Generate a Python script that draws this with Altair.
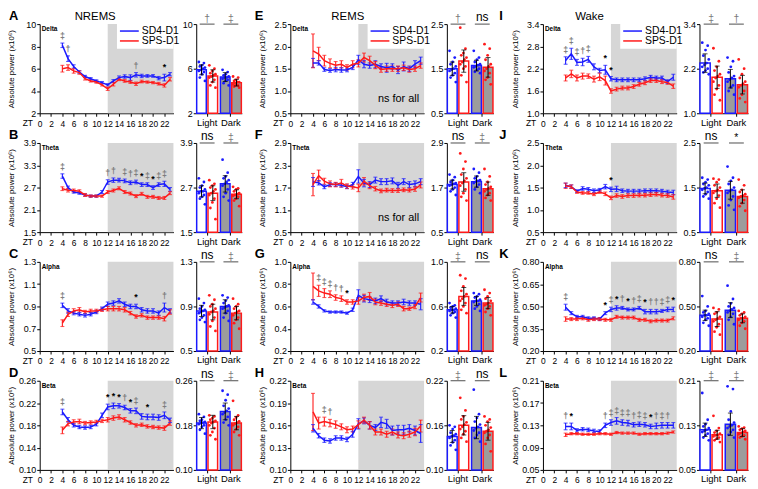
import altair as alt
import pandas as pd

ZT = list(range(4, 24))
SERIES = ["SD4-D1", "SPS-D1"]
GROUPS = ["Light", "Dark"]
BANDS = ["Delta", "Theta", "Alpha", "Beta"]
MODES = ["NREMS", "REMS", "Wake"]

# ---------------- NREMS ----------------
A_sd = [8.1, 6.9, 6.2, 5.7, 5.3, 5.1, 4.9, 4.75, 4.55, 4.9, 5.2, 5.3, 5.2, 5.45, 5.35, 5.35, 5.35, 5.15, 5.2, 5.5]
A_sd_err = [0.2, 0.25, 0.15, 0.12, 0.1, 0.1, 0.1, 0.1, 0.1, 0.12, 0.15, 0.15, 0.25, 0.2, 0.15, 0.12, 0.12, 0.15, 0.3, 0.15]
A_sps = [6.0, 6.1, 5.8, 5.65, 5.1, 4.9, 4.8, 4.55, 4.2, 4.6, 5.05, 4.9, 4.8, 4.65, 4.85, 4.8, 4.75, 4.65, 4.5, 5.05]
A_sps_err = [0.3, 0.25, 0.2, 0.15, 0.12, 0.1, 0.1, 0.1, 0.15, 0.15, 0.12, 0.12, 0.12, 0.15, 0.12, 0.1, 0.1, 0.12, 0.15, 0.15]
A_sig_zt = [4, 5, 17, 22]
A_sig_sym = ["‡", "†", "†", "*"]
A_bar = [5.9, 5.35, 5.25, 4.75]
A_bar_err = [0.45, 0.55, 0.4, 0.3]
A_bar_sig = ["†", "‡"]
A_dots_l_sd = [6.6, 6.5, 6.3, 6.2, 6.1, 6.0, 5.9, 5.8, 5.7, 5.5, 5.2, 4.9]
A_dots_l_sps = [6.3, 6.0, 5.8, 5.6, 5.5, 5.4, 5.3, 5.2, 5.0, 4.8, 4.5, 4.3]
A_dots_d_sd = [5.9, 5.7, 5.5, 5.4, 5.3, 5.2, 5.2, 5.1, 5.0, 4.9, 4.7, 4.5]
A_dots_d_sps = [5.3, 5.2, 5.0, 4.9, 4.8, 4.8, 4.7, 4.6, 4.5, 4.5, 4.4, 4.3]

B_sd = [3.01, 2.7, 2.58, 2.55, 2.5, 2.47, 2.47, 2.58, 2.85, 2.9, 2.9, 2.88, 2.83, 2.85, 2.78, 2.78, 2.7, 2.78, 2.8, 2.65]
B_sd_err = [0.06, 0.04, 0.03, 0.03, 0.03, 0.03, 0.03, 0.04, 0.06, 0.06, 0.05, 0.05, 0.05, 0.05, 0.05, 0.05, 0.05, 0.05, 0.07, 0.05]
B_sps = [2.67, 2.63, 2.62, 2.6, 2.5, 2.47, 2.47, 2.47, 2.58, 2.62, 2.68, 2.58, 2.54, 2.47, 2.53, 2.45, 2.45, 2.42, 2.42, 2.55]
B_sps_err = [0.05, 0.05, 0.04, 0.04, 0.04, 0.03, 0.03, 0.03, 0.04, 0.04, 0.04, 0.04, 0.04, 0.04, 0.04, 0.04, 0.04, 0.04, 0.04, 0.04]
B_sig_zt = [4, 12, 13, 15, 16, 17, 18, 19, 20, 21, 22]
B_sig_sym = ["‡", "†", "†", "‡", "†", "‡", "*", "‡", "*", "‡", "‡"]
B_bar = [2.6, 2.55, 2.8, 2.52]
B_bar_err = [0.15, 0.2, 0.22, 0.12]
B_bar_sig = ["ns", "‡"]
B_dots_l_sd = [2.95, 2.85, 2.75, 2.7, 2.65, 2.6, 2.6, 2.55, 2.5, 2.45, 2.4, 2.25]
B_dots_l_sps = [2.9, 2.8, 2.75, 2.7, 2.65, 2.6, 2.55, 2.5, 2.4, 2.3, 2.15, 1.85]
B_dots_d_sd = [3.45, 3.1, 3.0, 2.95, 2.9, 2.85, 2.8, 2.75, 2.65, 2.55, 2.45, 2.35]
B_dots_d_sps = [2.72, 2.68, 2.65, 2.6, 2.55, 2.52, 2.5, 2.48, 2.45, 2.4, 2.35, 2.2]

C_sd = [0.91, 0.86, 0.84, 0.83, 0.82, 0.83, 0.85, 0.88, 0.92, 0.93, 0.95, 0.92, 0.9, 0.9, 0.87, 0.86, 0.86, 0.84, 0.89, 0.86]
C_sd_err = [0.02, 0.02, 0.015, 0.015, 0.015, 0.015, 0.015, 0.015, 0.02, 0.02, 0.02, 0.02, 0.02, 0.02, 0.02, 0.02, 0.02, 0.02, 0.04, 0.02]
C_sps = [0.75, 0.83, 0.86, 0.87, 0.85, 0.86, 0.86, 0.87, 0.88, 0.88, 0.88, 0.87, 0.84, 0.81, 0.82, 0.8, 0.8, 0.8, 0.79, 0.85]
C_sps_err = [0.03, 0.02, 0.02, 0.02, 0.015, 0.015, 0.015, 0.015, 0.02, 0.02, 0.02, 0.02, 0.015, 0.015, 0.015, 0.015, 0.015, 0.015, 0.02, 0.02]
C_sig_zt = [4, 17, 22]
C_sig_sym = ["‡", "*", "†"]
C_bar = [0.86, 0.85, 0.9, 0.84]
C_bar_err = [0.05, 0.07, 0.06, 0.06]
C_bar_sig = ["ns", "‡"]
C_dots_l_sd = [0.97, 0.93, 0.9, 0.88, 0.87, 0.86, 0.85, 0.84, 0.82, 0.8, 0.78, 0.76]
C_dots_l_sps = [1.0, 0.96, 0.92, 0.9, 0.88, 0.86, 0.85, 0.83, 0.8, 0.77, 0.72, 0.68]
C_dots_d_sd = [1.0, 0.98, 0.95, 0.93, 0.91, 0.9, 0.89, 0.88, 0.86, 0.84, 0.8, 0.77]
C_dots_d_sps = [0.97, 0.92, 0.9, 0.88, 0.86, 0.85, 0.84, 0.82, 0.8, 0.78, 0.75, 0.7]

D_sd = [0.204, 0.19, 0.18, 0.177, 0.176, 0.177, 0.182, 0.198, 0.213, 0.215, 0.215, 0.212, 0.206, 0.206, 0.196, 0.195, 0.195, 0.194, 0.198, 0.189]
D_sd_err = [0.005, 0.004, 0.003, 0.003, 0.003, 0.003, 0.003, 0.004, 0.005, 0.005, 0.004, 0.004, 0.004, 0.005, 0.005, 0.005, 0.005, 0.005, 0.006, 0.004]
D_sps = [0.171, 0.183, 0.186, 0.187, 0.184, 0.185, 0.186, 0.188, 0.19, 0.193, 0.195, 0.19, 0.185, 0.18, 0.181, 0.178, 0.177, 0.176, 0.175, 0.184]
D_sps_err = [0.006, 0.004, 0.004, 0.004, 0.003, 0.003, 0.003, 0.003, 0.004, 0.004, 0.004, 0.004, 0.003, 0.003, 0.003, 0.003, 0.003, 0.003, 0.004, 0.004]
D_sig_zt = [4, 12, 13, 14, 15, 16, 17, 19, 22]
D_sig_sym = ["‡", "*", "*", "*", "†", "*", "‡", "*", "‡"]
D_bar = [0.184, 0.186, 0.205, 0.184]
D_bar_err = [0.01, 0.012, 0.015, 0.012]
D_bar_sig = ["ns", "‡"]
D_dots_l_sd = [0.2, 0.195, 0.19, 0.188, 0.186, 0.185, 0.184, 0.182, 0.18, 0.177, 0.172, 0.165]
D_dots_l_sps = [0.198, 0.196, 0.193, 0.19, 0.188, 0.186, 0.184, 0.18, 0.175, 0.168, 0.162, 0.155]
D_dots_d_sd = [0.242, 0.235, 0.225, 0.215, 0.21, 0.206, 0.203, 0.2, 0.195, 0.19, 0.185, 0.18]
D_dots_d_sps = [0.224, 0.198, 0.194, 0.19, 0.187, 0.185, 0.183, 0.18, 0.177, 0.173, 0.168, 0.162]

# ---------------- REMS ----------------
E_sd = [1.63, 1.63, 1.48, 1.46, 1.48, 1.47, 1.47, 1.53, 1.7, 1.6, 1.57, 1.6, 1.55, 1.52, 1.55, 1.47, 1.55, 1.5, 1.6, 1.68]
E_sd_err = [0.1, 0.05, 0.04, 0.04, 0.05, 0.05, 0.04, 0.05, 0.1, 0.08, 0.06, 0.08, 0.06, 0.1, 0.06, 0.08, 0.1, 0.06, 0.08, 0.08]
E_sps = [1.9, 1.83, 1.68, 1.62, 1.58, 1.6, 1.53, 1.6, 1.62, 1.75, 1.68, 1.58, 1.48, 1.5, 1.5, 1.5, 1.52, 1.48, 1.5, 1.57]
E_sps_err = [0.38, 0.15, 0.12, 0.1, 0.08, 0.08, 0.06, 0.08, 0.08, 0.1, 0.1, 0.08, 0.06, 0.06, 0.06, 0.06, 0.06, 0.06, 0.06, 0.06]
E_sig_zt = []
E_sig_sym = []
E_bar = [1.5, 1.67, 1.57, 1.53]
E_bar_err = [0.15, 0.25, 0.12, 0.22]
E_bar_sig = ["†", "ns"]
E_dots_l_sd = [1.9, 1.75, 1.65, 1.6, 1.55, 1.5, 1.48, 1.45, 1.4, 1.35, 1.3, 1.2]
E_dots_l_sps = [2.42, 1.95, 1.85, 1.8, 1.75, 1.7, 1.65, 1.6, 1.55, 1.5, 1.35, 1.2]
E_dots_d_sd = [1.9, 1.75, 1.7, 1.65, 1.6, 1.58, 1.55, 1.53, 1.5, 1.47, 1.43, 1.4]
E_dots_d_sps = [2.05, 1.95, 1.8, 1.7, 1.6, 1.55, 1.5, 1.45, 1.4, 1.3, 1.25, 1.15]

F_sd = [1.85, 1.83, 1.72, 1.78, 1.78, 1.76, 1.72, 1.78, 2.0, 1.82, 1.78, 1.9, 1.86, 1.86, 1.88, 1.76, 1.86, 1.78, 1.8, 1.86]
F_sd_err = [0.12, 0.06, 0.05, 0.05, 0.05, 0.05, 0.05, 0.06, 0.18, 0.1, 0.08, 0.08, 0.08, 0.08, 0.08, 0.08, 0.08, 0.08, 0.08, 0.08]
F_sps = [1.78, 2.02, 1.87, 1.8, 1.78, 1.82, 1.74, 1.72, 1.69, 1.87, 1.75, 1.67, 1.61, 1.63, 1.62, 1.62, 1.64, 1.63, 1.66, 1.77]
F_sps_err = [0.3, 0.15, 0.08, 0.08, 0.06, 0.1, 0.06, 0.06, 0.1, 0.1, 0.08, 0.06, 0.05, 0.05, 0.05, 0.05, 0.05, 0.05, 0.06, 0.08]
F_sig_zt = []
F_sig_sym = []
F_bar = [1.78, 1.85, 1.86, 1.67]
F_bar_err = [0.12, 0.25, 0.15, 0.18]
F_bar_sig = ["ns", "‡"]
F_dots_l_sd = [2.05, 1.98, 1.9, 1.85, 1.82, 1.8, 1.78, 1.75, 1.7, 1.65, 1.6, 1.5]
F_dots_l_sps = [2.62, 2.4, 2.2, 2.05, 1.95, 1.88, 1.82, 1.75, 1.65, 1.55, 1.45, 1.35]
F_dots_d_sd = [2.2, 2.1, 2.0, 1.95, 1.9, 1.88, 1.86, 1.82, 1.78, 1.72, 1.65, 1.55]
F_dots_d_sps = [2.2, 2.0, 1.85, 1.78, 1.72, 1.68, 1.65, 1.6, 1.55, 1.5, 1.42, 1.35]

G_sd = [0.64, 0.6, 0.56, 0.55, 0.55, 0.55, 0.54, 0.57, 0.7, 0.67, 0.66, 0.65, 0.67, 0.64, 0.63, 0.63, 0.64, 0.63, 0.63, 0.62]
G_sd_err = [0.02, 0.015, 0.01, 0.01, 0.01, 0.01, 0.01, 0.015, 0.05, 0.03, 0.025, 0.025, 0.025, 0.025, 0.02, 0.02, 0.025, 0.02, 0.02, 0.05]
G_sps = [0.78, 0.74, 0.72, 0.71, 0.68, 0.67, 0.64, 0.64, 0.65, 0.68, 0.69, 0.64, 0.63, 0.62, 0.61, 0.62, 0.58, 0.58, 0.6, 0.68]
G_sps_err = [0.12, 0.05, 0.04, 0.03, 0.025, 0.025, 0.02, 0.02, 0.03, 0.03, 0.035, 0.025, 0.02, 0.02, 0.02, 0.02, 0.02, 0.015, 0.02, 0.04]
G_sig_zt = [5, 6, 7, 8, 9, 10]
G_sig_sym = ["‡", "‡", "‡", "†", "†", "*"]
G_bar = [0.57, 0.69, 0.65, 0.63]
G_bar_err = [0.03, 0.08, 0.04, 0.05]
G_bar_sig = ["‡", "ns"]
G_dots_l_sd = [0.63, 0.61, 0.6, 0.59, 0.58, 0.57, 0.57, 0.56, 0.55, 0.54, 0.52, 0.5]
G_dots_l_sps = [0.88, 0.85, 0.78, 0.74, 0.71, 0.69, 0.67, 0.65, 0.63, 0.6, 0.57, 0.54]
G_dots_d_sd = [0.72, 0.71, 0.69, 0.68, 0.66, 0.65, 0.65, 0.64, 0.62, 0.6, 0.58, 0.56]
G_dots_d_sps = [0.75, 0.72, 0.69, 0.67, 0.65, 0.63, 0.62, 0.61, 0.6, 0.58, 0.55, 0.52]

H_sd = [0.156, 0.146, 0.14, 0.139, 0.143, 0.143, 0.141, 0.148, 0.162, 0.166, 0.16, 0.157, 0.164, 0.162, 0.153, 0.154, 0.154, 0.156, 0.153, 0.149]
H_sd_err = [0.005, 0.003, 0.003, 0.003, 0.003, 0.003, 0.003, 0.004, 0.007, 0.004, 0.005, 0.004, 0.007, 0.006, 0.006, 0.006, 0.006, 0.005, 0.006, 0.012]
H_sps = [0.178, 0.163, 0.165, 0.163, 0.161, 0.158, 0.154, 0.155, 0.161, 0.167, 0.16, 0.151, 0.151, 0.148, 0.151, 0.147, 0.146, 0.148, 0.151, 0.159]
H_sps_err = [0.025, 0.008, 0.006, 0.005, 0.005, 0.004, 0.004, 0.004, 0.005, 0.004, 0.005, 0.004, 0.004, 0.004, 0.004, 0.004, 0.004, 0.004, 0.005, 0.008]
H_sig_zt = [6, 7]
H_sig_sym = ["‡", "†"]
H_bar = [0.145, 0.16, 0.157, 0.152]
H_bar_err = [0.008, 0.013, 0.015, 0.012]
H_bar_sig = ["‡", "ns"]
H_dots_l_sd = [0.16, 0.158, 0.155, 0.15, 0.148, 0.146, 0.145, 0.143, 0.14, 0.137, 0.133, 0.127]
H_dots_l_sps = [0.197, 0.18, 0.172, 0.168, 0.164, 0.161, 0.158, 0.155, 0.152, 0.148, 0.143, 0.138]
H_dots_d_sd = [0.208, 0.175, 0.17, 0.165, 0.161, 0.158, 0.156, 0.153, 0.15, 0.147, 0.143, 0.138]
H_dots_d_sps = [0.172, 0.168, 0.165, 0.16, 0.157, 0.154, 0.152, 0.15, 0.147, 0.143, 0.135, 0.125]

# ---------------- Wake ----------------
I_sd = [2.42, 2.6, 2.37, 2.38, 2.45, 2.25, 2.15, 2.17, 1.93, 1.9, 1.9, 1.9, 1.9, 1.9, 1.93, 1.97, 1.95, 1.95, 1.85, 1.97]
I_sd_err = [0.1, 0.15, 0.08, 0.1, 0.08, 0.08, 0.06, 0.12, 0.06, 0.05, 0.05, 0.05, 0.05, 0.05, 0.05, 0.05, 0.05, 0.05, 0.05, 0.08]
I_sps = [1.95, 2.06, 1.95, 2.0, 2.0, 1.92, 1.98, 1.88, 1.6, 1.65, 1.68, 1.68, 1.72, 1.78, 1.82, 1.88, 1.88, 1.85, 1.83, 1.73]
I_sps_err = [0.08, 0.1, 0.08, 0.08, 0.06, 0.08, 0.1, 0.12, 0.06, 0.05, 0.05, 0.05, 0.05, 0.05, 0.05, 0.05, 0.05, 0.05, 0.05, 0.06]
I_sig_zt = [4, 5, 6, 7, 8, 11, 12]
I_sig_sym = ["‡", "‡", "‡", "†", "‡", "*", "*"]
I_bar = [2.35, 1.97, 1.93, 1.77]
I_bar_err = [0.25, 0.3, 0.25, 0.25]
I_bar_sig = ["‡", "†"]
I_dots_l_sd = [2.9, 2.82, 2.7, 2.55, 2.45, 2.35, 2.3, 2.25, 2.2, 2.15, 2.1, 2.05]
I_dots_l_sps = [2.75, 2.4, 2.25, 2.15, 2.05, 2.0, 1.95, 1.85, 1.75, 1.65, 1.5, 1.35]
I_dots_d_sd = [2.5, 2.4, 2.25, 2.1, 2.0, 1.95, 1.9, 1.85, 1.75, 1.7, 1.6, 1.5]
I_dots_d_sps = [2.45, 2.2, 2.05, 1.95, 1.85, 1.8, 1.75, 1.7, 1.6, 1.5, 1.4, 1.3]

J_sd = [1.55, 1.52, 1.42, 1.48, 1.46, 1.43, 1.45, 1.52, 1.46, 1.47, 1.43, 1.42, 1.42, 1.42, 1.43, 1.43, 1.43, 1.42, 1.4, 1.39]
J_sd_err = [0.05, 0.04, 0.03, 0.04, 0.04, 0.04, 0.03, 0.05, 0.05, 0.06, 0.04, 0.04, 0.04, 0.04, 0.04, 0.04, 0.04, 0.04, 0.04, 0.05]
J_sps = [1.54, 1.52, 1.4, 1.38, 1.38, 1.35, 1.4, 1.36, 1.27, 1.32, 1.3, 1.32, 1.32, 1.33, 1.33, 1.34, 1.35, 1.33, 1.32, 1.29]
J_sps_err = [0.06, 0.04, 0.03, 0.03, 0.03, 0.03, 0.03, 0.04, 0.04, 0.04, 0.04, 0.04, 0.04, 0.04, 0.04, 0.04, 0.04, 0.04, 0.04, 0.05]
J_sig_zt = [12]
J_sig_sym = ["*"]
J_bar = [1.48, 1.43, 1.44, 1.3]
J_bar_err = [0.12, 0.15, 0.2, 0.15]
J_bar_sig = ["ns", "*"]
J_dots_l_sd = [1.72, 1.68, 1.62, 1.58, 1.55, 1.5, 1.48, 1.45, 1.4, 1.35, 1.3, 1.25]
J_dots_l_sps = [1.7, 1.68, 1.62, 1.55, 1.5, 1.45, 1.42, 1.38, 1.32, 1.25, 1.15, 1.05]
J_dots_d_sd = [1.97, 1.72, 1.65, 1.58, 1.5, 1.45, 1.42, 1.38, 1.3, 1.22, 1.1, 1.0]
J_dots_d_sps = [1.68, 1.55, 1.45, 1.4, 1.35, 1.32, 1.3, 1.27, 1.22, 1.15, 1.08, 0.98]

K_sd = [0.495, 0.455, 0.43, 0.43, 0.42, 0.42, 0.415, 0.455, 0.48, 0.49, 0.49, 0.48, 0.48, 0.49, 0.465, 0.465, 0.465, 0.47, 0.48, 0.48]
K_sd_err = [0.02, 0.01, 0.01, 0.01, 0.01, 0.01, 0.01, 0.01, 0.015, 0.015, 0.01, 0.01, 0.01, 0.01, 0.015, 0.015, 0.015, 0.01, 0.015, 0.015]
K_sps = [0.415, 0.415, 0.415, 0.42, 0.41, 0.415, 0.415, 0.41, 0.41, 0.43, 0.425, 0.425, 0.425, 0.41, 0.41, 0.4, 0.405, 0.405, 0.405, 0.42]
K_sps_err = [0.015, 0.01, 0.01, 0.01, 0.01, 0.01, 0.01, 0.01, 0.01, 0.01, 0.01, 0.01, 0.01, 0.01, 0.01, 0.01, 0.01, 0.01, 0.01, 0.01]
K_sig_zt = [4, 11, 12, 13, 14, 15, 16, 17, 18, 19, 20, 21, 22, 23]
K_sig_sym = ["‡", "*", "‡", "*", "†", "*", "†", "‡", "*", "†", "†", "‡", "‡", "*"]
K_bar = [0.44, 0.415, 0.475, 0.42]
K_bar_err = [0.035, 0.05, 0.05, 0.03]
K_bar_sig = ["ns", "‡"]
K_dots_l_sd = [0.57, 0.5, 0.47, 0.46, 0.45, 0.44, 0.44, 0.43, 0.42, 0.41, 0.39, 0.37]
K_dots_l_sps = [0.49, 0.48, 0.46, 0.45, 0.43, 0.42, 0.41, 0.4, 0.38, 0.36, 0.33, 0.31]
K_dots_d_sd = [0.64, 0.55, 0.52, 0.5, 0.49, 0.48, 0.47, 0.46, 0.45, 0.43, 0.41, 0.38]
K_dots_d_sps = [0.47, 0.46, 0.45, 0.44, 0.43, 0.42, 0.42, 0.41, 0.4, 0.39, 0.37, 0.35]

L_sd = [0.128, 0.128, 0.121, 0.123, 0.122, 0.12, 0.119, 0.13, 0.135, 0.138, 0.135, 0.134, 0.131, 0.132, 0.131, 0.128, 0.129, 0.13, 0.13, 0.13]
L_sd_err = [0.006, 0.006, 0.003, 0.003, 0.003, 0.003, 0.003, 0.004, 0.005, 0.006, 0.005, 0.005, 0.004, 0.004, 0.004, 0.004, 0.005, 0.005, 0.005, 0.005]
L_sps = [0.113, 0.115, 0.115, 0.114, 0.114, 0.114, 0.115, 0.115, 0.114, 0.117, 0.116, 0.116, 0.116, 0.114, 0.115, 0.115, 0.115, 0.115, 0.116, 0.118]
L_sps_err = [0.003, 0.002, 0.002, 0.002, 0.002, 0.002, 0.002, 0.002, 0.002, 0.002, 0.002, 0.002, 0.002, 0.002, 0.002, 0.002, 0.002, 0.002, 0.002, 0.002]
L_sig_zt = [4, 5, 11, 12, 13, 14, 15, 16, 17, 18, 19, 20, 21, 22]
L_sig_sym = ["†", "*", "†", "‡", "‡", "‡", "‡", "†", "‡", "‡", "*", "†", "‡", "†"]
L_bar = [0.122, 0.113, 0.132, 0.117]
L_bar_err = [0.012, 0.008, 0.02, 0.007]
L_bar_sig = ["‡", "‡"]
L_dots_l_sd = [0.188, 0.14, 0.132, 0.128, 0.125, 0.122, 0.12, 0.118, 0.115, 0.112, 0.108, 0.103]
L_dots_l_sps = [0.147, 0.125, 0.12, 0.117, 0.115, 0.113, 0.112, 0.11, 0.108, 0.106, 0.103, 0.1]
L_dots_d_sd = [0.2, 0.195, 0.155, 0.14, 0.135, 0.13, 0.128, 0.125, 0.122, 0.118, 0.113, 0.108]
L_dots_d_sps = [0.128, 0.126, 0.124, 0.122, 0.12, 0.118, 0.116, 0.114, 0.112, 0.11, 0.108, 0.105]

# y-axis domains / label formats
Y_DOMAINS = {"A": (2, 10), "B": (1.5, 3.9), "C": (0.5, 1.3), "D": (0.10, 0.26),
             "E": (0.5, 2.5), "F": (0.5, 2.9), "G": (0.2, 1.0), "H": (0.10, 0.22),
             "I": (1.0, 3.4), "J": (0.5, 2.5), "K": (0.20, 0.80), "L": (0.05, 0.21)}
Y_FORMATS = {"A": "d", "B": ".1f", "C": ".1f", "D": ".2f", "E": ".1f", "F": ".1f",
             "G": ".1f", "H": ".2f", "I": ".1f", "J": ".1f", "K": ".2f", "L": ".2f"}

G_ = globals()


def panel(key):
    return {k: G_[f"{key}_{k}"] for k in
            ["sd", "sd_err", "sps", "sps_err", "sig_zt", "sig_sym", "bar", "bar_err", "bar_sig",
             "dots_l_sd", "dots_l_sps", "dots_d_sd", "dots_d_sps"]}


# ---------------- style / layout ----------------
FONT = "Liberation Sans, Arial, sans-serif"
BLUE = "#1a1aff"
RED = "#ff1a1a"
SHADE = "#d6d6d6"
DARKFILL = "#9c9c9c"
H = 90
LW = [135, 135, 135]
BW = [72, 74, 51]
BR = [46, 47, 49]
XMAX = 23.6
TITLE_X = [56, 58, 47]
LETTER_X = [-31, -36, -44]
COLUMNS = [["A", "B", "C", "D"], ["E", "F", "G", "H"], ["I", "J", "K", "L"]]
SUPER = "(x10\u2076)"

ser_scale = alt.Scale(domain=SERIES, range=[BLUE, RED])
one = pd.DataFrame({"k": [0]})


def sym_color(s):
    return "black" if s in ("ns", "*") else "#7a7a7a"


def sym_size(s):
    return 12 if s == "ns" else 10.5


def yvals(key):
    lo, hi = Y_DOMAINS[key]
    return [round(lo + k * (hi - lo) / 4, 4) for k in range(5)]


def line_panel(key, col, row):
    p = panel(key)
    lo, hi = Y_DOMAINS[key]
    W = LW[col]
    recs = []
    for s, m, e in [(SERIES[0], p["sd"], p["sd_err"]), (SERIES[1], p["sps"], p["sps_err"])]:
        for z, v, er in zip(ZT, m, e):
            recs.append({"zt": z, "series": s, "mean": v, "lo": v - er, "hi": v + er})
    df = pd.DataFrame(recs)
    xs = alt.Scale(domain=[0, XMAX], nice=False, zero=False)
    ys = alt.Scale(domain=[lo, hi], nice=False, zero=False)
    xaxis = alt.Axis(values=list(range(0, 23, 2)), title=None, labelFontSize=8.5, tickSize=3,
                     labelPadding=3, labelFlush=False, labelOverlap=False)
    ytitle = "Absolute power " + SUPER
    yaxis = alt.Axis(values=yvals(key), format=Y_FORMATS[key], title=ytitle,
                     titleFontSize=8, titleFontWeight="normal", titleX=-24, titleY=H / 2,
                     titleAngle=270, titleAlign="center", titleBaseline="bottom",
                     labelFontSize=9, tickSize=3, labelPadding=1, labelOverlap=False)

    def Y(f):
        return alt.Y(f, scale=ys, axis=yaxis, title=ytitle)

    def X(f):
        return alt.X(f, scale=xs, axis=xaxis, title=None)

    shade = alt.Chart(pd.DataFrame({"a": [12], "b": [XMAX], "c": [lo], "d": [hi]})).mark_rect(
        color=SHADE).encode(x=X("a:Q"), x2="b:Q", y=Y("c:Q"), y2="d:Q")
    layers = [shade]
    if row == 0:
        layers.append(alt.Chart(one).mark_rect(color="white").encode(
            x=alt.value(W - 57), x2=alt.value(W), y=alt.value(0), y2=alt.value(25)))
        for s, c, yy in [(SERIES[0], BLUE, 7), (SERIES[1], RED, 17)]:
            layers.append(alt.Chart(one).mark_rule(color=c, strokeWidth=1.5).encode(
                x=alt.value(W - 54), x2=alt.value(W - 35), y=alt.value(yy)))
            layers.append(alt.Chart(one).mark_text(text=s, align="left", baseline="middle",
                                                   fontSize=10.5).encode(
                x=alt.value(W - 32), y=alt.value(yy)))
        layers.append(alt.Chart(one).mark_text(text=MODES[col], align="center", baseline="bottom",
                                               fontSize=11.5).encode(
            x=alt.value(TITLE_X[col]), y=alt.value(-2)))
    base = alt.Chart(df)
    col_enc = alt.Color("series:N", scale=ser_scale, legend=None)
    layers.append(base.mark_rule(strokeWidth=1.1).encode(
        x=X("zt:Q"), y=Y("lo:Q"), y2="hi:Q", color=col_enc))
    for f in ["lo", "hi"]:
        layers.append(base.mark_tick(orient="horizontal", size=4, thickness=1.1).encode(
            x=X("zt:Q"), y=Y(f + ":Q"), color=col_enc))
    layers.append(base.mark_line(strokeWidth=1.5).encode(
        x=X("zt:Q"), y=Y("mean:Q"), color=col_enc, detail="series:N"))
    if p["sig_zt"]:
        arecs = []
        for z, s in zip(p["sig_zt"], p["sig_sym"]):
            i = z - 4
            top = max(p["sd"][i] + p["sd_err"][i], p["sps"][i] + p["sps_err"][i])
            arecs.append({"zt": z, "top": top, "sym": s, "c": sym_color(s)})
        layers.append(alt.Chart(pd.DataFrame(arecs)).mark_text(
            baseline="bottom", dy=-2, fontSize=9, fontWeight="bold").encode(
            x=X("zt:Q"), y=Y("top:Q"), text="sym:N",
            color=alt.Color("c:N", scale=None)))
    if key in ("E", "F"):
        layers.append(alt.Chart(one).mark_text(text="ns for all", align="right", baseline="middle",
                                               fontSize=11).encode(
            x=alt.value(W - 5), y=alt.value(H - 14)))
    layers.append(alt.Chart(one).mark_text(text=BANDS[row], align="left", baseline="top",
                                           fontSize=6.5, fontWeight="bold").encode(
        x=alt.value(2), y=alt.value(2)))
    layers.append(alt.Chart(one).mark_text(text="ZT", align="center", baseline="top",
                                           fontSize=8.5).encode(
        x=alt.value(-12), y=alt.value(H + 6)))
    layers.append(alt.Chart(one).mark_text(text=key, align="left", baseline="bottom",
                                           fontSize=13, fontWeight="bold").encode(
        x=alt.value(LETTER_X[col]), y=alt.value(-1)))
    return alt.layer(*layers).properties(width=W, height=H)


def bar_panel(key, col, row):
    p = panel(key)
    lo, hi = Y_DOMAINS[key]
    combos = [("Light", SERIES[0]), ("Light", SERIES[1]), ("Dark", SERIES[0]), ("Dark", SERIES[1])]
    bars = pd.DataFrame({"group": [c[0] for c in combos], "series": [c[1] for c in combos],
                         "mean": p["bar"],
                         "lo": [m - e for m, e in zip(p["bar"], p["bar_err"])],
                         "hi": [m + e for m, e in zip(p["bar"], p["bar_err"])]})
    drecs = []
    for (g, s), vals in zip(combos, [p["dots_l_sd"], p["dots_l_sps"], p["dots_d_sd"], p["dots_d_sps"]]):
        for k, v in enumerate(vals):
            drecs.append({"group": g, "series": s, "value": v, "k": k})
    dots = pd.DataFrame(drecs)
    sig = pd.DataFrame({"group": GROUPS, "sym": p["bar_sig"],
                        "c": [sym_color(s) for s in p["bar_sig"]],
                        "fs": [sym_size(s) for s in p["bar_sig"]]})
    xsc = alt.Scale(domain=GROUPS, range=[0, BR[col]], paddingInner=0.08, paddingOuter=0.0)
    osc = alt.Scale(domain=SERIES, paddingInner=0.15, paddingOuter=0.04)
    ysc = alt.Scale(domain=[lo, hi], nice=False, zero=False)
    xaxis = alt.Axis(title=None, labelAngle=0, labelFontSize=9.5, tickSize=3, labelPadding=1)
    yaxis = alt.Axis(title=None, values=yvals(key), format=Y_FORMATS[key], labelFontSize=9,
                     tickSize=3, labelPadding=1, labelOverlap=False)

    def X():
        return alt.X("group:N", scale=xsc, axis=xaxis, sort=GROUPS, title=None)

    def Y(f):
        return alt.Y(f, scale=ysc, axis=yaxis, title=None)

    XO = alt.XOffset("series:N", scale=osc, sort=SERIES)
    b = alt.Chart(bars)
    bar = b.mark_bar(strokeWidth=1.5).encode(
        x=X(), xOffset=XO, y=Y("mean:Q"), y2=alt.datum(lo),
        fill=alt.Fill("group:N", scale=alt.Scale(domain=GROUPS, range=["white", DARKFILL]), legend=None),
        stroke=alt.Stroke("series:N", scale=ser_scale, legend=None))
    pts = alt.Chart(dots).transform_calculate(
        xo="(datum.series == 'SD4-D1' ? 0.26 : 0.74) + ((((datum.k * 5) % 7) / 6) - 0.5) * 0.28"
    ).mark_circle(size=8, opacity=1).encode(
        x=X(), xOffset=alt.XOffset("xo:Q", scale=alt.Scale(domain=[0, 1])),
        y=Y("value:Q"),
        color=alt.Color("series:N", scale=ser_scale, legend=None))
    err = b.mark_rule(color="black", strokeWidth=1).encode(
        x=X(), xOffset=XO, y=Y("lo:Q"), y2="hi:Q")
    caps = [b.mark_tick(orient="horizontal", size=5, thickness=1, color="black").encode(
        x=X(), xOffset=XO, y=Y(f + ":Q")) for f in ["lo", "hi"]]
    s = alt.Chart(sig)
    srule = s.mark_tick(orient="horizontal", size=15, thickness=1, color="black").encode(
        x=X(), y=alt.datum(hi))
    stext = s.mark_text(baseline="bottom", dy=0).encode(
        x=X(), y=alt.datum(hi), text="sym:N", color=alt.Color("c:N", scale=None),
        size=alt.Size("fs:Q", scale=None))
    return alt.layer(bar, pts, err, *caps, srule, stext).resolve_scale(
        xOffset="independent").properties(width=BW[col], height=H)


charts = []
for row in range(4):
    for col in range(3):
        key = COLUMNS[col][row]
        charts.append(line_panel(key, col, row))
        charts.append(bar_panel(key, col, row))

chart = alt.concat(*charts, columns=6, spacing={"row": 30, "column": 23}, bounds="flush").properties(
    padding={"left": 0, "top": 0, "right": 0, "bottom": 0}
).configure_view(stroke=None).configure_axis(
    domainColor="black", tickColor="black", labelColor="black", titleColor="black",
    domainWidth=1, tickWidth=1, grid=False, labelFont=FONT, titleFont=FONT
).configure_text(font=FONT, color="black")

chart.save("out.html", embed_options={"renderer": "svg", "actions": False})
